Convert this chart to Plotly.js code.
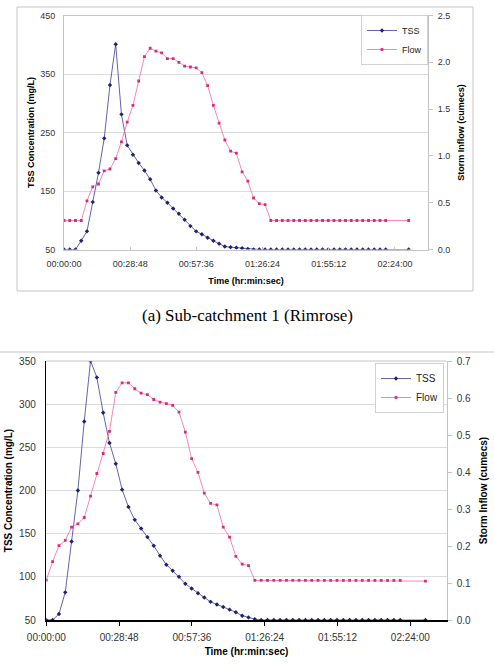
<!DOCTYPE html>
<html>
<head>
<meta charset="utf-8">
<script src="https://cdn.plot.ly/plotly-3.0.1.min.js"></script>
<style>
  html, body { margin: 0; padding: 0; background: #ffffff; }
  #chart { width: 494px; height: 664px; }
</style>
</head>
<body>
<div id="chart"></div>
<script>
// Sampling times in minutes from the start of the storm event
const times = [
  0, 2.5, 5, 7.5, 10, 12.5, 15, 17.5, 20, 22.5,
  25, 27.5, 30, 32.5, 35, 37.5, 40, 42.5, 45, 47.5,
  50, 52.5, 55, 57.5, 60, 62.5, 65, 67.5, 70, 72.5,
  75, 77.5, 80, 82.5, 85, 87.5, 90, 92.5, 95, 97.5,
  100, 102.5, 105, 107.5, 110, 112.5, 115, 117.5, 120, 122.5,
  125, 127.5, 130, 132.5, 135, 137.5, 140, 150
];

// Sub-catchment 1 (Rimrose): TSS (mg/L) and storm inflow (cumecs)
const tssRimrose = [
  50, 50, 50, 65, 81, 131, 181, 240, 331, 401,
  281, 228, 212, 198, 185, 170, 151, 139, 130, 120,
  111, 101, 90, 81, 76, 70, 65, 60, 55, 54,
  53, 52, 51, 50, 50, 50, 50, 50, 50, 50,
  50, 50, 50, 50, 50, 50, 50, 50, 50, 50,
  50, 50, 50, 50, 50, 50, 50, 50
];
const flowRimrose = [
  0.31, 0.31, 0.31, 0.31, 0.52, 0.67, 0.70, 0.84, 0.86, 0.97,
  1.15, 1.36, 1.54, 1.80, 2.06, 2.15, 2.12, 2.10, 2.04, 2.04,
  2.00, 1.96, 1.95, 1.94, 1.89, 1.75, 1.54, 1.35, 1.17, 1.05,
  1.03, 0.83, 0.73, 0.55, 0.49, 0.48, 0.31, 0.31, 0.31, 0.31,
  0.31, 0.31, 0.31, 0.31, 0.31, 0.31, 0.31, 0.31, 0.31, 0.31,
  0.31, 0.31, 0.31, 0.31, 0.31, 0.31, 0.31, 0.31
];

// Second sub-catchment: TSS (mg/L) and storm inflow (cumecs)
const tssSecond = [
  50, 50, 57, 82, 141, 200, 280, 350, 331, 290,
  255, 231, 201, 181, 166, 156, 146, 136, 124.5, 114,
  107, 100, 92, 86.5, 81, 76, 71, 68, 65, 62,
  59, 55, 53, 51, 50, 50, 50, 50, 50, 50,
  50, 50, 50, 50, 50, 50, 50, 50, 50, 50,
  50, 50, 50, 50, 50, 50, 50, 50
];
const flowSecond = [
  0.108, 0.158, 0.201, 0.215, 0.251, 0.260, 0.277, 0.335, 0.396, 0.450,
  0.510, 0.615, 0.641, 0.641, 0.625, 0.613, 0.609, 0.596, 0.589, 0.585,
  0.580, 0.562, 0.508, 0.436, 0.399, 0.343, 0.315, 0.311, 0.251, 0.224,
  0.172, 0.151, 0.147, 0.107, 0.107, 0.107, 0.107, 0.107, 0.107, 0.107,
  0.107, 0.107, 0.107, 0.107, 0.107, 0.107, 0.107, 0.107, 0.107, 0.107,
  0.107, 0.107, 0.107, 0.107, 0.107, 0.107, 0.107, 0.105
];

// Time axis ticks (every 0.02 day = 28.8 minutes)
const tickMinutes = [0, 28.8, 57.6, 86.4, 115.2, 144];
const tickLabels = ['00:00:00', '00:28:48', '00:57:36', '01:26:24', '01:55:12', '02:24:00'];

const seriesNames = ['TSS', 'Flow'];
const caption = '(a) Sub-catchment 1 (Rimrose)';

const W = 494, H = 664;
const px = v => v / W;          // horizontal pixel -> paper
const py = v => 1 - v / H;      // vertical pixel -> paper

const SANS = 'Liberation Sans, Arial, sans-serif';
const TSS_LINE = '#3c3c90', TSS_MARK = '#20206e';
const FLOW_LINE = '#f06aa6', FLOW_MARK = '#d82a7e';
const GRID = '#dcdcdc', FRAME = '#c4c4c4';

function tssTrace(y, xa, ya, legend) {
  return {
    x: times, y: y, xaxis: xa, yaxis: ya, legend: legend,
    name: seriesNames[0], type: 'scatter', mode: 'lines+markers',
    line: { color: TSS_LINE, width: 0.8 },
    marker: { color: TSS_MARK, symbol: 'diamond', size: 3.4 }
  };
}
function flowTrace(y, xa, ya, legend) {
  return {
    x: times, y: y, xaxis: xa, yaxis: ya, legend: legend,
    name: seriesNames[1], type: 'scatter', mode: 'lines+markers',
    line: { color: FLOW_LINE, width: 0.8 },
    marker: { color: FLOW_MARK, symbol: 'square', size: 2.8 }
  };
}

const data = [
  tssTrace(tssRimrose, 'x', 'y', 'legend'),
  flowTrace(flowRimrose, 'x', 'y2', 'legend'),
  tssTrace(tssSecond, 'x2', 'y3', 'legend2'),
  flowTrace(flowSecond, 'x2', 'y4', 'legend2')
];

const titleFont = s => ({ family: SANS, size: s, color: '#000', weight: 'bold' });
const tickFont = s => ({ family: SANS, size: s, color: '#333' });

const layout = {
  width: W, height: H,
  margin: { l: 0, r: 0, t: 0, b: 0 },
  paper_bgcolor: '#ffffff', plot_bgcolor: '#ffffff',
  showlegend: true,
  font: { family: SANS },

  // ---- upper chart ----
  xaxis: {
    domain: [px(64), px(428)], anchor: 'y',
    range: [0, 158.4], tickvals: tickMinutes, ticktext: tickLabels,
    showgrid: false, zeroline: false,
    showline: true, linecolor: FRAME, linewidth: 1, mirror: true,
    ticks: 'inside', ticklen: 3, tickcolor: FRAME,
    tickfont: tickFont(9), ticklabelstandoff: 6,
    title: { text: 'Time (hr:min:sec)', font: titleFont(9), standoff: 9 }
  },
  yaxis: {
    domain: [py(249.5), py(15.5)], anchor: 'x',
    range: [50, 450], tickvals: [50, 150, 250, 350, 450],
    showgrid: true, gridcolor: GRID, zeroline: false,
    showline: true, linecolor: FRAME, linewidth: 1, mirror: true,
    ticks: '', tickfont: tickFont(9), ticklabelstandoff: 6,
    title: { text: 'TSS Concentration (mg/L)', font: titleFont(9), standoff: 4 }
  },
  yaxis2: {
    overlaying: 'y', side: 'right', anchor: 'x',
    range: [0, 2.5], dtick: 0.5, tickformat: '.1f',
    showgrid: false, zeroline: false,
    showline: true, linecolor: FRAME, linewidth: 1,
    ticks: 'outside', ticklen: 4, tickcolor: FRAME,
    tickfont: tickFont(9), ticklabelstandoff: 3,
    title: { text: 'Storm Inflow (cumecs)', font: titleFont(9), standoff: 8 }
  },

  // ---- lower chart ----
  xaxis2: {
    domain: [px(46.3), px(446.7)], anchor: 'y3',
    range: [0, 158.4], tickvals: tickMinutes, ticktext: tickLabels,
    showgrid: false, zeroline: false,
    showline: true, linecolor: '#000', linewidth: 1.5,
    ticks: 'outside', ticklen: 4, tickcolor: '#000',
    tickfont: tickFont(10), ticklabelstandoff: 3,
    title: { text: 'Time (hr:min:sec)', font: titleFont(10), standoff: 6 }
  },
  yaxis3: {
    domain: [py(620), py(361)], anchor: 'x2',
    range: [50, 350], dtick: 50,
    showgrid: true, gridcolor: GRID, zeroline: false,
    showline: true, linecolor: '#000', linewidth: 1.5,
    ticks: '', tickfont: tickFont(10), ticklabelstandoff: 7,
    title: { text: 'TSS Concentration (mg/L)', font: titleFont(10), standoff: 4 }
  },
  yaxis4: {
    overlaying: 'y3', side: 'right', anchor: 'x2',
    range: [0, 0.7], dtick: 0.1, tickformat: '.1f',
    showgrid: false, zeroline: false,
    showline: true, linecolor: FRAME, linewidth: 1,
    ticks: 'outside', ticklen: 4, tickcolor: FRAME,
    tickfont: tickFont(10), ticklabelstandoff: 3,
    title: { text: 'Storm Inflow (cumecs)', font: titleFont(10), standoff: 9 }
  },

  legend: {
    x: px(428), xanchor: 'right', y: py(15), yanchor: 'top',
    bgcolor: '#ffffff', bordercolor: '#d0d0d0', borderwidth: 1,
    font: { family: SANS, size: 9, color: '#222' },
    itemwidth: 30, tracegroupgap: 0
  },
  legend2: {
    x: px(444), xanchor: 'right', y: py(363), yanchor: 'top',
    bgcolor: '#ffffff', bordercolor: '#d0d0d0', borderwidth: 1,
    font: { family: SANS, size: 10, color: '#222' },
    itemwidth: 30, tracegroupgap: 0
  },

  shapes: [
    // frame around the upper chart
    { type: 'rect', xref: 'paper', yref: 'paper',
      x0: px(17), x1: px(473), y0: py(291), y1: py(7),
      line: { color: FRAME, width: 1 }, layer: 'below' },
    // top edge of the lower chart frame
    { type: 'line', xref: 'paper', yref: 'paper',
      x0: 0, x1: 1, y0: py(352), y1: py(352),
      line: { color: FRAME, width: 1 } },
    // top border of the lower plot area
    { type: 'line', xref: 'paper', yref: 'paper',
      x0: px(46.3), x1: px(446.7), y0: py(361), y1: py(361),
      line: { color: FRAME, width: 1 } }
  ],

  annotations: [
    { text: caption, xref: 'paper', yref: 'paper',
      x: px(247), y: py(316), xanchor: 'center', yanchor: 'middle',
      showarrow: false,
      font: { family: 'Liberation Serif, Times New Roman, serif', size: 17, color: '#000' } }
  ]
};

Plotly.newPlot('chart', data, layout, { displayModeBar: false, staticPlot: true });
</script>
</body>
</html>
